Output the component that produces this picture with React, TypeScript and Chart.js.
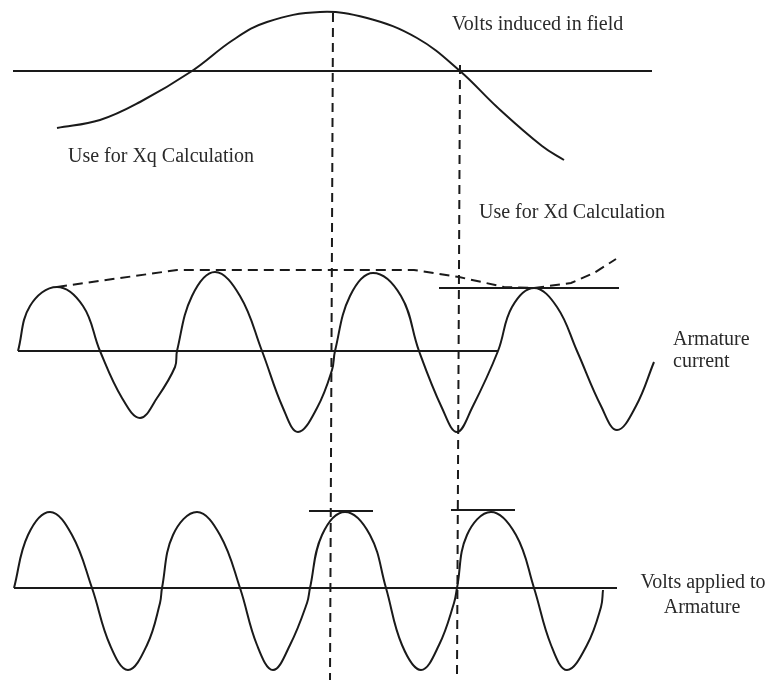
import React, { useEffect, useRef } from "react";
import { Chart, registerables } from "chart.js";

Chart.register(...registerables);

// Curves (x: horizontal position, y: vertical position, top = 0)
const fieldVolts = [
  [57, 128], [100, 120], [140, 102], [192, 71], [233, 40], [267, 22], [320, 12],
  [367, 18], [417, 38], [460, 71], [497, 107], [542, 146], [564, 160],
];
const armatureCurrent = [
  [18, 351], [30, 306], [57, 287], [83, 306], [100, 351], [122, 398], [140, 418],
  [157, 398], [175, 367], [177, 351], [192, 296], [215, 272], [240, 296], [262, 351],
  [283, 408], [298, 432], [317, 408], [332, 370], [335, 351], [350, 296], [373, 273],
  [401, 296], [419, 351], [442, 408], [457, 432], [472, 408], [498, 351], [512, 307],
  [534, 288], [557, 307], [577, 351], [601, 406], [617, 430], [636, 406], [654, 362],
];
const appliedVolts = [
  [14, 588], [28, 535], [50, 512], [72, 535], [92, 588], [110, 645], [128, 670],
  [147, 645], [160, 603], [162, 588], [173, 535], [197, 512], [220, 535], [240, 588],
  [257, 645], [273, 670], [290, 645], [307, 603], [310, 588], [322, 535], [345, 512],
  [370, 535], [386, 588], [402, 645], [421, 670], [439, 645], [454, 603], [457, 588],
  [467, 535], [491, 512], [516, 535], [534, 588], [551, 645], [567, 670], [587, 645],
  [601, 607], [603, 590],
];
const envelope = [
  [57, 287], [177, 270], [414, 270], [459, 277], [504, 287], [534, 288],
  [571, 283], [594, 273], [616, 259],
];
const fieldAxis = [[13, 71], [652, 71]];
const currentAxis = [[18, 351], [498, 351]];
const voltsAxis = [[14, 588], [617, 588]];
const currentPeakMark = [[439, 288], [619, 288]];
const voltsPeakMark1 = [[309, 511], [373, 511]];
const voltsPeakMark2 = [[451, 510], [515, 510]];
const xqGuide = [[333, 13], [330, 680]];
const xdGuide = [[460, 65], [457, 675]];

const labelTexts = [
  "Volts induced in field",
  "Use for Xq Calculation",
  "Use for Xd Calculation",
  "Armature",
  "current",
  "Volts applied to",
  "Armature",
];
const labelAnchors = [
  { x: 452, y: 30, align: "left" },
  { x: 68, y: 162, align: "left" },
  { x: 479, y: 218, align: "left" },
  { x: 673, y: 345, align: "left" },
  { x: 673, y: 367, align: "left" },
  { x: 703, y: 588, align: "center" },
  { x: 702, y: 613, align: "center" },
];

const W = 769;
const H = 681;
const INK = "#1a1a1a";

const toPts = (arr: number[][]) => arr.map(([x, y]) => ({ x, y }));

const labelPlugin = {
  id: "diagramLabels",
  afterDatasetsDraw(chart: any) {
    const { ctx, scales } = chart;
    ctx.save();
    ctx.fillStyle = "#2a2a2a";
    ctx.font = '20px "Liberation Serif", "Times New Roman", serif';
    ctx.textBaseline = "alphabetic";
    labelTexts.forEach((t, i) => {
      const a = labelAnchors[i];
      ctx.textAlign = a.align;
      ctx.fillText(t, scales.x.getPixelForValue(a.x), scales.y.getPixelForValue(a.y));
    });
    ctx.restore();
  },
};

export default function App() {
  const ref = useRef<HTMLCanvasElement | null>(null);
  useEffect(() => {
    document.body.style.margin = "0";
    document.body.style.background = "#ffffff";
    if (!ref.current) return;
    const solid = (data: number[][], tension: number) => ({
      data: toPts(data),
      showLine: true,
      borderColor: INK,
      borderWidth: 2,
      pointRadius: 0,
      tension,
      cubicInterpolationMode: "default",
      fill: false,
    });
    const dashed = (data: number[][], dash: number[]) => ({
      data: toPts(data),
      showLine: true,
      borderColor: INK,
      borderWidth: 2,
      borderDash: dash,
      pointRadius: 0,
      tension: 0,
      fill: false,
    });
    const chart = new Chart(ref.current, {
      type: "scatter",
      data: {
        datasets: [
          solid(fieldAxis, 0),
          solid(currentAxis, 0),
          solid(voltsAxis, 0),
          solid(currentPeakMark, 0),
          solid(voltsPeakMark1, 0),
          solid(voltsPeakMark2, 0),
          solid(fieldVolts, 0.4),
          solid(armatureCurrent, 0.4),
          solid(appliedVolts, 0.4),
          dashed(envelope, [10, 6]),
          dashed(xqGuide, [9, 6]),
          dashed(xdGuide, [9, 6]),
        ] as any,
      },
      options: {
        animation: false,
        responsive: false,
        maintainAspectRatio: false,
        layout: { padding: 0 },
        plugins: { legend: { display: false }, tooltip: { enabled: false } },
        scales: {
          x: { type: "linear", min: 0, max: W, display: false },
          y: { type: "linear", min: 0, max: H, reverse: true, display: false },
        },
      } as any,
      plugins: [labelPlugin],
    });
    return () => chart.destroy();
  }, []);
  return (
    <div style={{ width: W, height: H, background: "#fff" }}>
      <canvas ref={ref} width={W} height={H} style={{ display: "block" }} />
    </div>
  );
}
